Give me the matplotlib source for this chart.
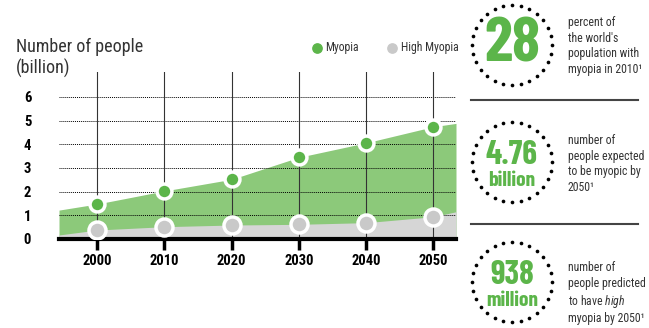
import numpy as np
import matplotlib.pyplot as plt

plt.rcParams['font.family'] = ['Roboto Condensed', 'DejaVu Sans']
plt.rcParams['mathtext.fontset'] = 'custom'
plt.rcParams['mathtext.it'] = 'Roboto Condensed:italic'
plt.rcParams['mathtext.rm'] = 'Roboto Condensed'

# values (billions)
years = [2000, 2010, 2020, 2030, 2040, 2050]
myopia = [1.48, 2.03, 2.52, 3.45, 4.06, 4.74]
high_myopia = [0.38, 0.52, 0.59, 0.62, 0.69, 0.94]

# where the filled bands meet the left / right edges of the plot
x_edges = [1994.3, 2053.4]
myopia_edges = [1.22, 4.88]
high_edges = [0.17, 1.15]

yticks = [0, 1, 2, 3, 4, 5, 6]

stats = ['28', '4.76\nbillion', '938\nmillion']
notes = ["percent of\nthe world's\npopulation with\nmyopia in 2010\u00b9",
         "number of\npeople expected\nto be myopic by\n2050\u00b9",
         "number of\npeople predicted\nto have $\\it{high}$\nmyopia by 2050\u00b9"]

green = '#8cc97a'
green_dot = '#5cb54a'
grey = '#d6d6d6'
grey_dot = '#c9c9c9'
ink = '#333333'
big_font = ['Barlow Condensed', 'Roboto Condensed', 'DejaVu Sans']

fig = plt.figure(figsize=(6.49, 3.28), dpi=100)
ax = fig.add_axes([59 / 649, 89 / 328, 397 / 649, 167 / 328])

xa = [x_edges[0]] + years + [x_edges[1]]
ya = [myopia_edges[0]] + myopia + [myopia_edges[1]]
yb = [high_edges[0]] + high_myopia + [high_edges[1]]
ax.fill_between(xa, 0, ya, color=green, lw=0, zorder=1)
ax.fill_between(xa, 0, yb, color=grey, lw=0, zorder=1.5)

for y in yticks[1:]:
    ax.axhline(y, color='black', lw=0.7, ls=(0, (1, 1)), zorder=2)
for x in years:
    ax.axvline(x, color=ink, lw=0.8, zorder=2)
ax.axhline(0, color='black', lw=3, zorder=3, clip_on=False)

ax.scatter(years, myopia, s=115, color=green_dot, edgecolor='white', linewidth=2.5, zorder=4)
ax.scatter(years, high_myopia, s=150, color=grey_dot, edgecolor='white', linewidth=2.5, zorder=4)

ax.set_xlim(x_edges)
ax.set_ylim(0, 7.05)
ax.set_xticks(years)
ax.set_xticklabels([str(y) for y in years], fontsize=10.5, fontweight='bold')
ax.set_yticks(yticks)
ax.set_yticklabels([str(y) for y in yticks], fontsize=10.5, fontweight='bold')
ax.tick_params(axis='x', direction='out', length=8, width=2.5, color='black', pad=3)
ax.tick_params(axis='y', length=0, pad=20)
for s in ax.spines.values():
    s.set_visible(False)

fig.text(16 / 649, 1 - 58 / 328, 'Number of people\n(billion)', fontsize=13,
         color=ink, va='center', ha='left', linespacing=1.2)

# overlay in pixel coordinates for legend and the right-hand panel
ov = fig.add_axes([0, 0, 1, 1], facecolor='none')
ov.set_xlim(0, 649)
ov.set_ylim(328, 0)
ov.axis('off')

ov.scatter([317], [48], s=45, color=green_dot)
ov.text(325, 48, 'Myopia', fontsize=8.5, color=ink, va='center')
ov.scatter([392], [48], s=45, color=grey_dot)
ov.text(401, 48, 'High Myopia', fontsize=8.5, color=ink, va='center')

centres = [45, 162, 282]
text_y = [46, 164, 293]
ang = np.linspace(0, 2 * np.pi, 28, endpoint=False)
for cy, stat, note, ty in zip(centres, stats, notes, text_y):
    ov.scatter(512 + 40 * np.cos(ang), cy + 40 * np.sin(ang), s=7, color='black', lw=0)
    if '\n' in stat:
        big, small = stat.split('\n')
        ov.text(512, cy + 2, big, fontsize=24, fontweight='bold', color=green_dot,
                ha='center', va='baseline', family=big_font)
        ov.text(512, cy + 24, small, fontsize=15.5, fontweight='bold', color=green_dot,
                ha='center', va='baseline', family=big_font)
    else:
        ov.text(512, cy, stat, fontsize=46, fontweight='bold', color=green_dot,
                ha='center', va='center', family=big_font)
    ov.text(568, ty, note, fontsize=8.5, color=ink, va='center', ha='left',
            linespacing=1.25)

ov.plot([471, 638], [100, 100], color='#444444', lw=1.5)
ov.plot([471, 638], [224, 224], color='#444444', lw=1.5)

fig.savefig('out.png', dpi=100)
